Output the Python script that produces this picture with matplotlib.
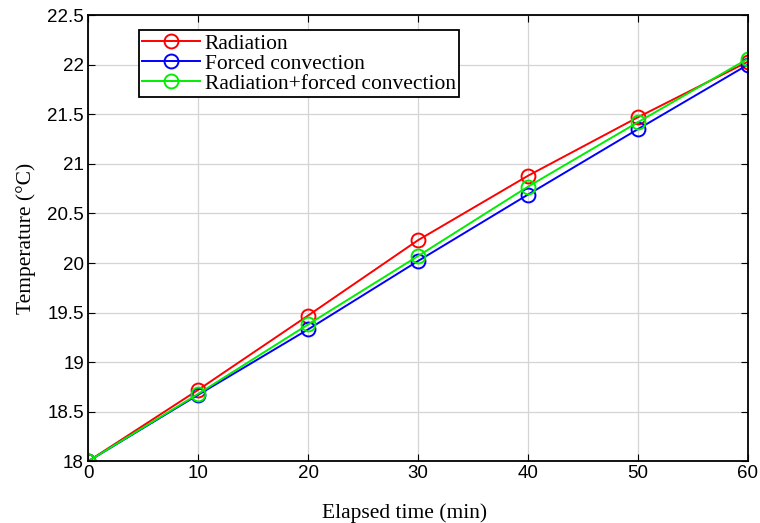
import matplotlib
matplotlib.use("Agg")
import matplotlib.pyplot as plt

time_min = [0, 10, 20, 30, 40, 50, 60]
radiation = [18.0, 18.72, 19.47, 20.23, 20.88, 21.47, 22.03]
forced = [18.0, 18.67, 19.33, 20.02, 20.69, 21.35, 22.00]
combined = [18.0, 18.68, 19.38, 20.07, 20.77, 21.42, 22.06]
labels = ["Radiation", "Forced convection", "Radiation+forced convection"]

fig = plt.figure(figsize=(7.6, 5.23), dpi=100)
ax = fig.add_axes([0.116, 0.118, 0.868, 0.853])

ax.plot(time_min, radiation, color="#ff0000", marker="o", mfc="none", ms=10, mew=1.4, lw=1.4, label=labels[0])
ax.plot(time_min, forced, color="#0000ff", marker="o", mfc="none", ms=10, mew=1.4, lw=1.4, label=labels[1])
ax.plot(time_min, combined, color="#00ee00", marker="o", mfc="none", ms=10, mew=1.4, lw=1.4, label=labels[2])

ax.set_xlim(0, 60)
ax.set_ylim(18, 22.5)
ax.set_xticks(range(0, 61, 10))
ax.set_yticks([18 + 0.5 * i for i in range(10)])
ax.set_yticklabels(["18", "18.5", "19", "19.5", "20", "20.5", "21", "21.5", "22", "22.5"])
ax.grid(True, color="#d4d4d4", lw=0.9)
ax.tick_params(direction="in", top=True, right=True, labelsize=13.5, length=5, pad=3)
for lab in ax.get_xticklabels() + ax.get_yticklabels():
    lab.set_family("Liberation Sans")
for s in ax.spines.values():
    s.set_linewidth(1.3)

ax.set_xlabel("Elapsed time (min)", family="Liberation Serif", fontsize=15.5, labelpad=12)
ax.xaxis.set_label_coords(0.48, -0.095)
ax.set_ylabel("Temperature (\u00b0C)", family="Liberation Serif", fontsize=15.5, labelpad=8)

leg = ax.legend(loc="upper left", bbox_to_anchor=(0.077, 0.966), prop={"family": "Liberation Serif", "size": 15.5},
                fancybox=False, edgecolor="black", framealpha=1, handlelength=2.7,
                borderpad=0.15, labelspacing=0.0, handletextpad=0.2, borderaxespad=0)
leg.get_frame().set_linewidth(1.3)

fig.savefig("out.png", dpi=100)
